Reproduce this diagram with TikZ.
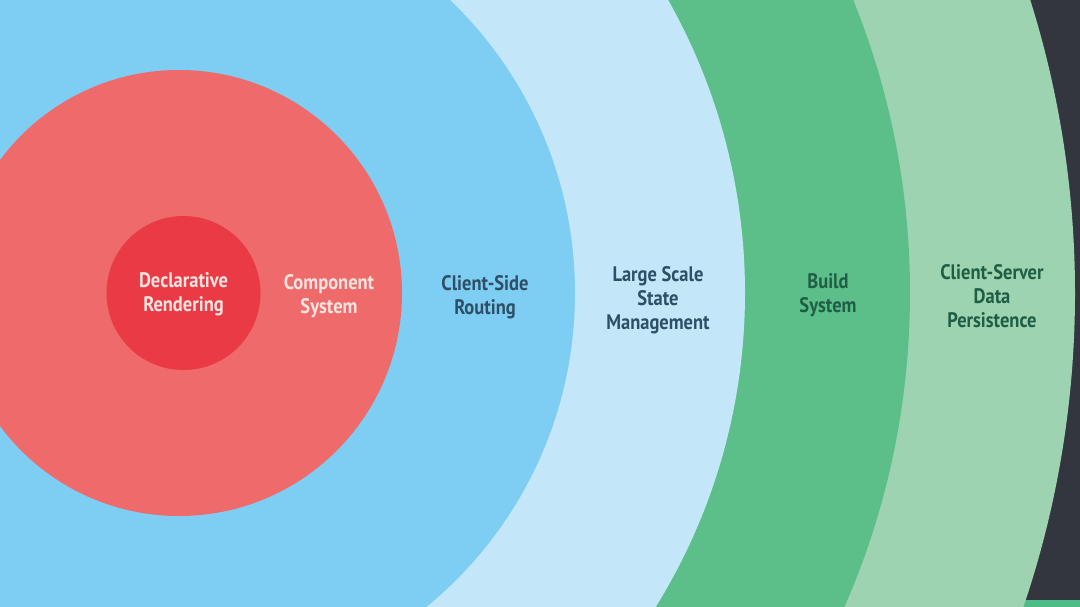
\documentclass[tikz,border=0pt]{standalone}
\usepackage{fontspec}
\setmainfont{PT Sans}[FakeStretch=0.88]
\definecolor{bgdark}{HTML}{33363F}
\definecolor{stripgreen}{HTML}{4DBD88}
\definecolor{lgreen}{HTML}{9DD3B0}
\definecolor{dgreen}{HTML}{5CBF8A}
\definecolor{lblue}{HTML}{C3E7F9}
\definecolor{mblue}{HTML}{7ECDF3}
\definecolor{lred}{HTML}{EF6A6A}
\definecolor{dred}{HTML}{E93A46}
\definecolor{txtred}{HTML}{FBE3DF}
\definecolor{txtblue}{HTML}{2E4F66}
\definecolor{txtgreen}{HTML}{1F5E45}
\begin{document}
\begin{tikzpicture}[x=1pt,y=-1pt]
\tikzset{lbl/.style={align=center,font=\bfseries\fontsize{21}{24}\selectfont,inner sep=0pt}}
\useasboundingbox (0,0) rectangle (1080,607);
\clip (0,0) rectangle (1080,607);
\fill[bgdark] (0,0) rectangle (1080,607);
\fill[stripgreen] (1000,600) rectangle (1080,607);
\fill[lgreen] (99,293) circle[radius=976pt];
\fill[dgreen] (128,293) circle[radius=782pt];
\fill[lblue] (149,293) circle[radius=596pt];
\fill[mblue] (169,293) circle[radius=406pt];
\fill[lred] (179,293) circle[radius=223pt];
\fill[dred] (183.5,293) circle[radius=77pt];
\node[lbl,text=txtred] (decl) at (183.5,294) {Declarative\\Rendering};
\node[lbl,text=txtred] (comp) at (329,296) {Component\\System};
\node[lbl,text=txtblue] (route) at (485,297) {Client-Side\\Routing};
\node[lbl,text=txtblue] (state) at (658,300) {Large Scale\\State\\Management};
\node[lbl,text=txtgreen] (build) at (828,295) {Build\\System};
\node[lbl,text=txtgreen] (persist) at (992,296) {Client-Server\\Data\\Persistence};
\end{tikzpicture}
\end{document}
